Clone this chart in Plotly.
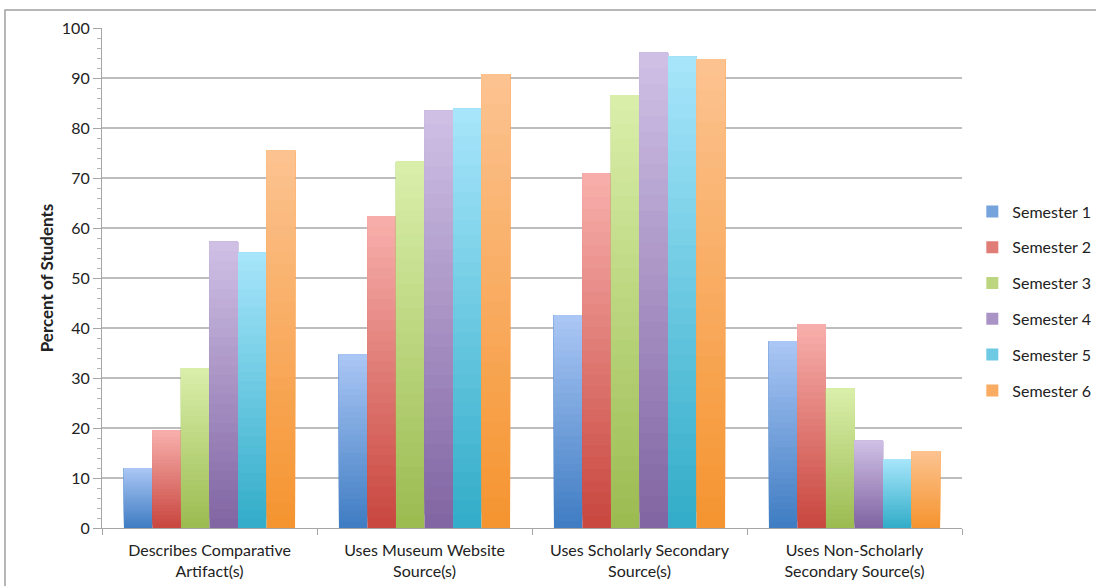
import plotly.graph_objects as go

# ---- data ----
categories = [
    "Describes Comparative<br>Artifact(s)",
    "Uses Museum Website<br>Source(s)",
    "Uses Scholarly Secondary<br>Source(s)",
    "Uses Non-Scholarly<br>Secondary Source(s)",
]
series_names = ["Semester 1", "Semester 2", "Semester 3", "Semester 4", "Semester 5", "Semester 6"]
semester_1 = [12.0, 34.7, 42.6, 37.4]
semester_2 = [19.5, 62.4, 70.9, 40.8]
semester_3 = [32.0, 73.3, 86.6, 27.9]
semester_4 = [57.3, 83.5, 95.1, 17.5]
semester_5 = [55.1, 83.9, 94.3, 13.8]
semester_6 = [75.5, 90.8, 93.8, 15.4]
series_values = [semester_1, semester_2, semester_3, semester_4, semester_5, semester_6]

y_ticks = list(range(0, 101, 10))

# bottom (saturated) and top (light) colours of each series' gradient
bottom_colors = [(62, 124, 194), (200, 70, 62), (155, 187, 80), (128, 100, 162), (49, 172, 200), (245, 148, 47)]
top_colors = [(171, 199, 245), (248, 176, 173), (218, 239, 171), (208, 193, 230), (168, 230, 251), (252, 195, 145)]

FONT = "Lato"
TEXT = "#222222"
GRID = "#bdbdbd"
N_STEPS = 30


def mix(c0, c1, t):
    return "rgb(%d,%d,%d)" % tuple(round(a + (b - a) * t) for a, b in zip(c0, c1))


fig = go.Figure()

# each bar is painted as overlapping slices from its base upward, so the
# colour fades from the saturated base to a light top
for name, vals, c0, c1 in zip(series_names, series_values, bottom_colors, top_colors):
    for i in range(N_STEPS):
        f = i / N_STEPS
        fig.add_trace(go.Bar(
            x=categories,
            y=[v * (1 - f) for v in vals],
            base=[v * f for v in vals],
            offsetgroup=name,
            legendgroup=name,
            name=name,
            showlegend=(i == N_STEPS // 2),
            marker=dict(color=mix(c0, c1, (i + 0.5) / N_STEPS), line=dict(width=0)),
            hoverinfo="skip",
        ))

fig.update_layout(
    width=1096,
    height=586,
    margin=dict(l=102, r=134, t=28, b=58, autoexpand=False),
    paper_bgcolor="white",
    plot_bgcolor="white",
    barmode="group",
    bargap=0.204,
    bargroupgap=0,
    font=dict(family=FONT, size=16, color=TEXT),
    legend=dict(
        x=1.012, y=0.454, xanchor="left", yanchor="middle",
        traceorder="grouped", tracegroupgap=12,
        font=dict(family=FONT, size=16, color=TEXT),
        itemwidth=30,
    ),
    shapes=[dict(
        type="rect", xref="paper", yref="paper",
        x0=-0.1128, x1=1.2, y0=-0.2, y1=1.036,
        line=dict(color="#a0a0a0", width=1.5), fillcolor="rgba(0,0,0,0)",
        layer="below",
    )],
)

fig.update_xaxes(
    type="category",
    showline=True, linecolor="#a6a6a6", linewidth=1.2,
    ticks="outside", tickson="boundaries", ticklen=6, tickcolor="#a6a6a6",
    showgrid=False,
    ticklabelstandoff=8,
    tickfont=dict(family=FONT, size=16, color=TEXT),
)

fig.update_yaxes(
    range=[0, 100],
    tickvals=y_ticks,
    showline=True, linecolor="#a6a6a6", linewidth=1.2,
    ticks="outside", ticklen=8, tickcolor="#a6a6a6",
    minor=dict(dtick=2, ticks="outside", ticklen=4, tickcolor="#b5b5b5", showgrid=False),
    showgrid=True, gridcolor=GRID, gridwidth=1.5,
    zeroline=False,
    tickfont=dict(family=FONT, size=16, color=TEXT),
    title=dict(text="<b>Percent of Students</b>", font=dict(family=FONT, size=17, color=TEXT), standoff=3),
)

fig.write_html("out.html")
